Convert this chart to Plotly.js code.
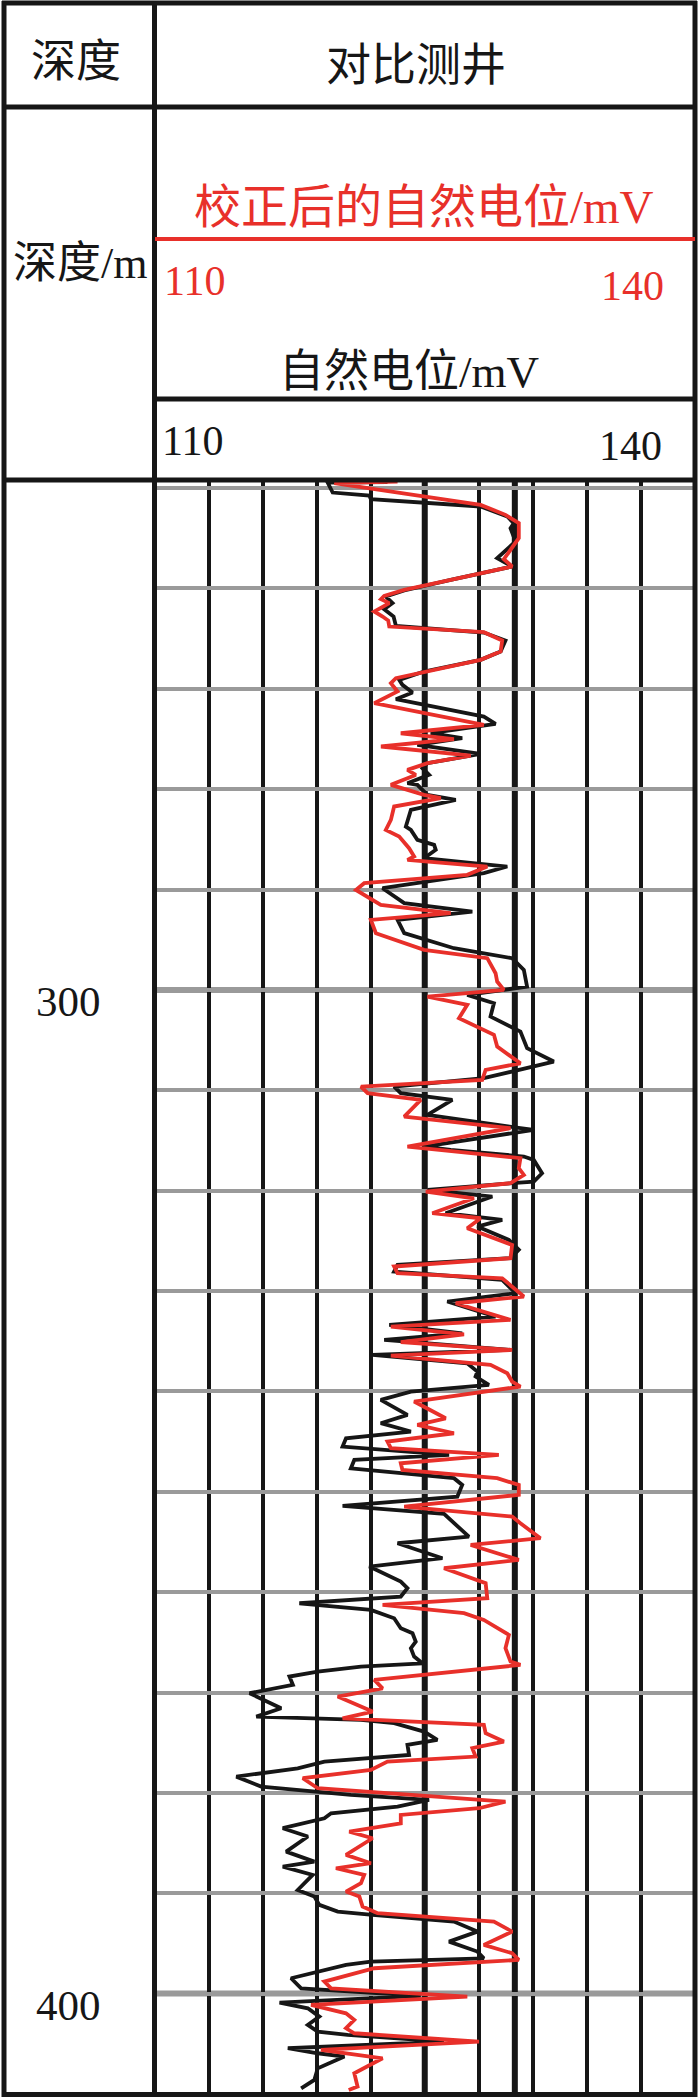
<!DOCTYPE html>
<html>
<head>
<meta charset="utf-8">
<script src="https://cdn.plot.ly/plotly-3.0.1.min.js"></script>
<style>
  html, body { margin: 0; padding: 0; background: #fff; }
  #chart { width: 700px; height: 2099px; }
</style>
</head>
<body>
<div id="chart"></div>
<script>
// 自然电位 (black), depth in m / value in mV
var spDepth = [249.40, 249.45, 250.45, 250.75, 251.11, 251.84, 252.84, 253.50, 254.00, 255.33,
  256.99, 257.82, 259.15, 260.21, 260.81, 261.47, 262.07, 262.80, 263.73, 264.40,
  265.19, 266.29, 267.12, 268.28, 269.11, 269.61, 270.37, 271.04, 272.77, 273.50,
  274.43, 274.92, 275.59, 276.49, 277.41, 277.91, 278.58, 279.41, 279.57, 280.57,
  281.07, 282.07, 283.73, 284.06, 285.05, 285.55, 286.05, 286.88, 287.71, 288.37,
  289.87, 291.36, 292.20, 293.03, 294.35, 295.85, 296.84, 298.01, 299.67, 300.50,
  301.33, 302.66, 304.15, 305.81, 307.14, 308.14, 308.80, 309.63, 310.29, 310.96,
  312.45, 313.78, 313.95, 315.61, 315.94, 316.60, 316.94, 318.27, 319.10, 319.26,
  319.93, 320.59, 322.25, 322.91, 323.58, 324.91, 325.90, 326.73, 327.40, 328.06,
  328.89, 330.22, 331.05, 332.55, 333.38, 334.21, 334.87, 335.87, 336.37, 337.20,
  338.03, 338.52, 339.35, 340.02, 340.85, 342.34, 343.17, 344.00, 344.67, 345.50,
  346.33, 346.83, 347.66, 348.65, 349.32, 350.48, 351.41, 352.21, 354.47, 355.13,
  356.62, 357.45, 358.95, 359.61, 360.44, 361.11, 361.77, 362.60, 363.60, 364.10,
  364.93, 365.59, 366.42, 367.09, 367.42, 367.92, 368.41, 369.24, 370.07, 371.57,
  372.40, 372.73, 373.06, 373.89, 374.72, 375.22, 376.22, 376.88, 377.55, 378.38,
  379.37, 380.20, 380.70, 381.37, 382.03, 382.53, 383.52, 384.35, 385.85, 386.85,
  387.34, 388.17, 389.67, 390.33, 391.16, 391.83, 392.16, 392.82, 393.82, 394.82,
  395.81, 396.48, 396.81, 397.14, 397.81, 398.47, 399.47, 400.23, 400.89, 401.46,
  402.29, 403.12, 403.78, 404.11, 404.78, 405.44, 405.94, 406.27, 407.44, 408.60,
  409.43];
var spValue = [122.93, 119.61, 119.89, 121.92, 122.01, 128.10, 129.58, 129.94, 129.76, 130.04,
  129.02, 129.85, 126.44, 123.86, 122.84, 123.21, 122.75, 123.27, 123.40, 128.28,
  129.48, 129.21, 128.10, 124.96, 123.58, 123.76, 124.32, 123.40, 128.28, 128.93,
  125.33, 127.08, 124.59, 128.10, 125.15, 124.87, 125.24, 124.04, 124.59, 125.15,
  126.72, 124.23, 123.95, 124.23, 124.59, 125.52, 125.61, 124.96, 129.58, 128.28,
  122.66, 123.86, 127.64, 123.49, 123.86, 126.62, 129.85, 130.50, 130.68, 127.36,
  128.84, 128.65, 130.31, 130.68, 132.16, 129.85, 128.28, 123.30, 123.67, 126.53,
  125.15, 130.31, 131.05, 124.96, 126.44, 130.50, 131.05, 131.51, 131.05, 129.85,
  125.15, 128.75, 126.16, 129.30, 127.92, 129.67, 130.22, 129.76, 123.49, 123.30,
  129.30, 130.04, 126.25, 128.93, 123.03, 127.08, 122.75, 129.76, 122.10, 127.36,
  127.92, 127.82, 128.56, 124.23, 122.56, 124.04, 122.56, 124.23, 120.63, 120.44,
  126.35, 121.09, 120.90, 126.62, 127.08, 126.81, 120.44, 126.07, 127.45, 123.49,
  125.98, 121.92, 123.67, 124.04, 123.67, 118.04, 122.01, 123.30, 123.67, 124.32,
  124.50, 124.23, 124.41, 124.87, 121.46, 119.06, 117.49, 117.68, 115.28, 117.03,
  115.65, 121.46, 123.30, 124.96, 125.70, 124.04, 124.13, 119.43, 117.95, 114.54,
  115.92, 120.90, 125.24, 123.49, 119.80, 119.43, 117.12, 118.51, 117.31, 118.87,
  117.12, 118.78, 117.95, 118.87, 119.15, 120.17, 122.10, 126.62, 127.92, 126.35,
  127.92, 128.28, 122.01, 120.63, 119.15, 117.58, 118.14, 124.78, 116.94, 118.51,
  119.15, 118.51, 119.06, 120.72, 126.07, 117.40, 119.06, 120.54, 119.06, 118.87,
  118.14];

// 校正后的自然电位 (red)
var spcDepth = [249.35, 249.52, 251.68, 252.67, 253.50, 255.00, 257.09, 257.82, 259.15, 260.15,
  260.74, 261.08, 261.47, 262.30, 262.80, 263.20, 263.80, 264.36, 265.19, 266.29,
  267.12, 268.28, 268.95, 269.45, 270.27, 271.44, 273.60, 274.43, 275.02, 275.75,
  276.65, 277.41, 278.08, 278.58, 279.57, 280.57, 280.90, 281.73, 283.06, 284.06,
  284.72, 285.88, 286.71, 287.05, 287.71, 288.54, 289.37, 290.04, 291.53, 292.36,
  293.03, 294.35, 296.01, 296.84, 298.34, 299.17, 300.00, 300.66, 301.49, 302.82,
  304.48, 305.65, 307.31, 307.97, 308.97, 309.63, 310.29, 310.96, 312.62, 313.78,
  315.61, 316.77, 317.77, 318.43, 319.26, 320.09, 320.76, 322.25, 322.75, 323.74,
  325.41, 326.73, 327.56, 328.23, 328.73, 330.55, 331.22, 332.88, 333.54, 334.31,
  335.10, 335.87, 336.43, 337.36, 338.19, 339.02, 339.52, 341.01, 342.68, 343.34,
  344.17, 345.00, 345.66, 346.33, 347.16, 347.82, 348.65, 349.32, 350.31, 351.48,
  352.47, 353.14, 354.63, 355.30, 356.79, 357.62, 359.11, 360.61, 361.27, 362.10,
  362.77, 364.26, 365.59, 366.92, 367.25, 368.75, 369.58, 370.41, 371.90, 372.57,
  373.23, 374.06, 374.89, 375.55, 376.38, 376.88, 377.71, 378.54, 379.54, 380.87,
  381.53, 382.20, 383.03, 383.86, 384.52, 386.18, 387.01, 387.51, 388.17, 389.00,
  389.83, 390.33, 391.33, 391.99, 392.82, 393.82, 395.15, 395.98, 396.64, 397.47,
  398.80, 399.47, 400.30, 401.13, 401.96, 402.62, 403.45, 403.95, 404.78, 405.61,
  406.44, 407.93, 409.26, 409.60];
var spcValue = [123.49, 119.98, 128.10, 129.48, 130.22, 130.22, 129.39, 129.85, 126.44, 123.86,
  122.75, 122.57, 123.03, 122.20, 122.66, 122.97, 123.03, 128.28, 129.30, 129.21,
  128.10, 124.96, 123.40, 123.12, 123.49, 122.20, 128.28, 123.67, 126.62, 122.57,
  127.55, 125.15, 124.04, 124.50, 123.12, 124.96, 125.89, 123.30, 123.12, 122.84,
  123.58, 124.13, 124.41, 124.04, 128.47, 127.36, 121.64, 121.18, 122.56, 126.44,
  122.01, 122.29, 124.96, 128.47, 128.93, 129.02, 129.39, 125.15, 127.36, 126.90,
  128.84, 129.02, 130.31, 128.38, 128.19, 121.46, 121.83, 124.78, 123.86, 129.76,
  124.04, 130.31, 130.22, 130.50, 129.76, 125.06, 127.73, 125.42, 128.10, 127.36,
  129.85, 129.76, 123.30, 123.49, 129.30, 130.50, 126.72, 129.76, 123.12, 127.18,
  123.67, 129.85, 123.12, 128.65, 129.58, 129.85, 130.31, 124.41, 126.16, 124.59,
  126.62, 122.93, 123.12, 129.11, 123.67, 123.76, 129.02, 130.22, 130.22, 123.86,
  129.85, 130.31, 131.42, 127.55, 130.22, 126.07, 128.38, 128.47, 122.66, 127.18,
  128.28, 129.67, 129.48, 129.76, 130.31, 122.20, 122.66, 120.17, 122.10, 120.44,
  128.28, 128.38, 129.39, 127.64, 127.82, 122.93, 122.01, 118.23, 119.06, 129.48,
  128.01, 123.67, 123.67, 120.81, 122.10, 120.63, 122.01, 120.07, 121.64, 121.46,
  120.63, 121.37, 121.55, 122.38, 128.84, 129.85, 128.28, 129.85, 130.22, 122.20,
  119.43, 119.80, 127.36, 118.69, 120.63, 121.09, 120.63, 121.09, 128.01, 119.24,
  122.66, 121.09, 121.27, 120.78];

var scaleMin = 110, scaleMax = 140;
var depthTop = 249.3, depthBottom = 410.05;
var depthLabels = [300, 400];
var baseLines = [125, 130];

var W = 700, H = 2099;
function px(x) { return x / W; }
function py(y) { return 1 - y / H; }

var RED = '#e8302a';
var INK = '#161616';
var SERIF = '"Liberation Serif", "Noto Sans CJK SC", serif';

var trace1 = {
  x: spValue,
  y: spDepth,
  type: 'scatter',
  mode: 'lines',
  line: { color: INK, width: 3.8 },
  hoverinfo: 'skip',
  name: '自然电位',
};
var trace2 = {
  x: spcValue,
  y: spcDepth,
  type: 'scatter',
  mode: 'lines',
  line: { color: RED, width: 3.8 },
  hoverinfo: 'skip',
  name: '校正后的自然电位',
};

function hline(y, x0, x1, color, width) {
  return { type: 'line', xref: 'paper', yref: 'paper', x0: px(x0), x1: px(x1),
    y0: py(y), y1: py(y), line: { color: color, width: width }, layer: 'above' };
}
function vline(x, y0, y1, color, width) {
  return { type: 'line', xref: 'paper', yref: 'paper', x0: px(x), x1: px(x),
    y0: py(y0), y1: py(y1), line: { color: color, width: width }, layer: 'above' };
}

var shapes = [
  // 表格边框
  hline(3, 2, 697, INK, 5),
  hline(107, 4, 695, INK, 5),
  hline(480, 4, 695, INK, 5),
  hline(2094.5, 2, 697, INK, 5),
  vline(4, 1, 2097, INK, 5),
  vline(154.5, 1, 2097, INK, 5),
  vline(695, 1, 2097, INK, 5),
  hline(239, 155, 695, RED, 4),
  hline(399, 155, 695, INK, 5),
];
depthLabels.forEach(function (d) {
  shapes.push({ type: 'line', xref: 'paper', yref: 'y', x0: px(155), x1: px(695),
    y0: d, y1: d, line: { color: '#9a9a9a', width: 6 }, layer: 'between' });
});
baseLines.forEach(function (v) {
  shapes.push({ type: 'line', xref: 'x', yref: 'paper', x0: v, x1: v,
    y0: py(2094), y1: py(481), line: { color: INK, width: 6 }, layer: 'between' });
});

function label(text, x, y, color, size) {
  return { text: text, xref: 'paper', yref: 'paper', x: px(x), y: py(y),
    xanchor: 'center', yanchor: 'middle', showarrow: false,
    font: { family: SERIF, size: size, color: color } };
}

var annotations = [
  label('深度', 76, 62, INK, 45),
  label('对比测井', 416, 66, INK, 45),
  label('深度/m', 80, 263, INK, 44),
  label('校正后的自然电位/mV', 424, 207, RED, 47),
  label(String(scaleMin), 194, 281, RED, 42),
  label(String(scaleMax), 632, 286, RED, 42),
  label('自然电位/mV', 409, 372, INK, 45),
  label(String(scaleMin), 192, 441, INK, 42),
  label(String(scaleMax), 630, 446, INK, 42),
];
depthLabels.forEach(function (d) {
  annotations.push({ text: String(d), xref: 'paper', yref: 'y', x: px(68), y: d,
    yshift: -12, xanchor: 'center', yanchor: 'middle', showarrow: false,
    font: { family: SERIF, size: 43, color: INK } });
});

var layout = {
  width: W,
  height: H,
  margin: { l: 0, r: 0, t: 0, b: 0 },
  paper_bgcolor: '#fff',
  plot_bgcolor: '#fff',
  showlegend: false,
  xaxis: {
    domain: [px(154.5), px(695)],
    range: [scaleMin, scaleMax],
    tick0: scaleMin,
    dtick: 3,
    showgrid: true,
    gridcolor: INK,
    gridwidth: 4,
    zeroline: false,
    showticklabels: false,
    ticks: '',
    showline: false,
    fixedrange: true,
  },
  yaxis: {
    domain: [py(2094.5), py(481)],
    range: [depthBottom, depthTop],
    tick0: 250,
    dtick: 10,
    showgrid: true,
    gridcolor: '#9a9a9a',
    gridwidth: 4,
    zeroline: false,
    showticklabels: false,
    ticks: '',
    showline: false,
    fixedrange: true,
  },
  shapes: shapes,
  annotations: annotations,
};

Plotly.newPlot('chart', [trace1, trace2], layout, {
  displayModeBar: false,
  staticPlot: true,
});
</script>
</body>
</html>
